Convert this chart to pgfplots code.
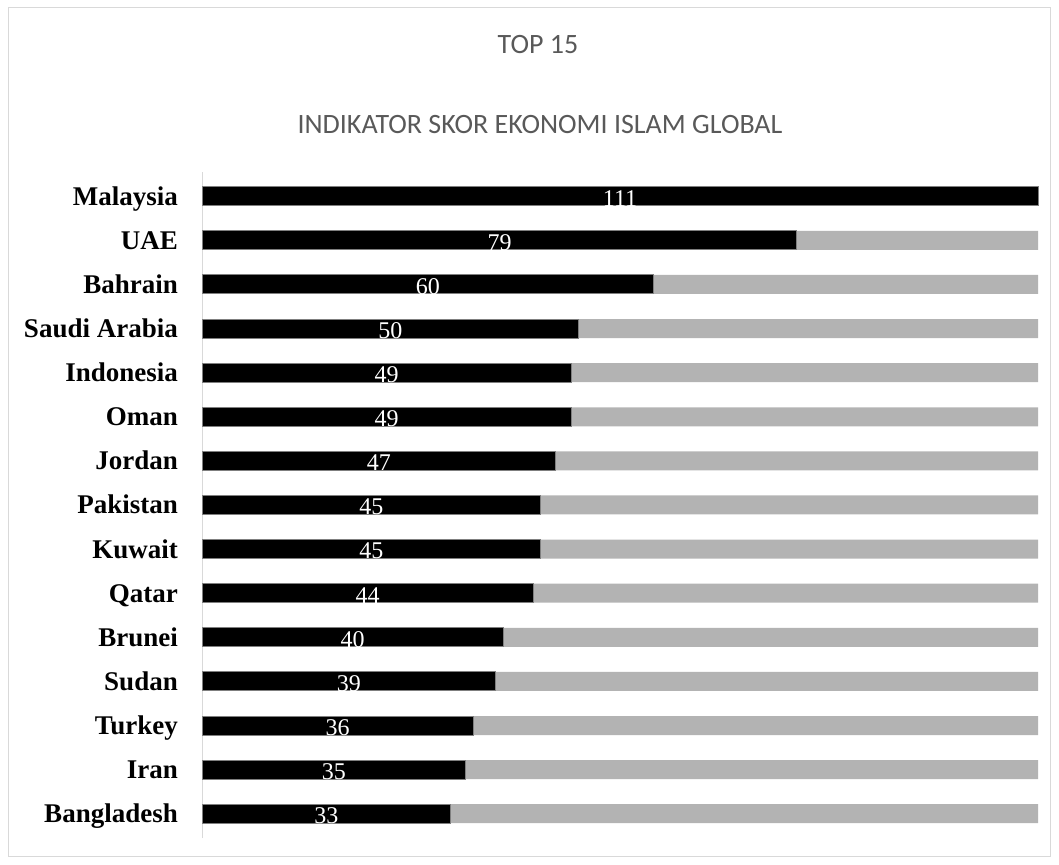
\documentclass[border=0pt]{standalone}
\usepackage{pgfplots}
\pgfplotsset{compat=1.18}
\usepackage{pgfplotstable}
\usepackage{fontspec}
\setmainfont{Liberation Serif}
\newfontfamily\calibri{Carlito}
\definecolor{titlegray}{HTML}{595959}
\definecolor{bggray}{HTML}{B3B3B3}
\definecolor{framegray}{HTML}{D9D9D9}
\definecolor{edgegray}{HTML}{7F7F7F}

\pgfplotstableread{
idx v
0 33
1 35
2 36
3 39
4 40
5 44
6 45
7 45
8 47
9 49
10 49
11 50
12 60
13 79
14 111
}\datatable

\pgfplotstableread{
idx full
0 111
1 111
2 111
3 111
4 111
5 111
6 111
7 111
8 111
9 111
10 111
11 111
12 111
13 111
14 111
}\fulltable

\begin{document}
\begin{tikzpicture}
\useasboundingbox (0bp,0bp) rectangle (1059bp,865bp);
\draw[framegray, line width=1bp] (8bp,8bp) rectangle (1050bp,857bp);
\node[font=\calibri\fontsize{28bp}{32bp}\selectfont, text=titlegray, anchor=base, inner sep=0pt] at (538bp,811bp) {TOP 15};
\node[font=\calibri\fontsize{28bp}{32bp}\selectfont, text=titlegray, anchor=base, inner sep=0pt] at (540bp,731bp) {INDIKATOR SKOR EKONOMI ISLAM GLOBAL};
\begin{axis}[
  at={(202bp,27bp)}, anchor=south west,
  scale only axis, width=836bp, height=666bp,
  xmin=0, xmax=111, ymin=-0.55, ymax=14.55,
  axis x line=none,
  axis y line*=left,
  y axis line style={draw=framegray, line width=1bp},
  ytick={0,...,14},
  yticklabels={Bangladesh,Iran,Turkey,Sudan,Brunei,Qatar,Kuwait,Pakistan,Jordan,Oman,Indonesia,Saudi Arabia,Bahrain,UAE,Malaysia},
  major tick length=0pt,
  yticklabel style={font=\bfseries\fontsize{27bp}{30bp}\selectfont, anchor=base east, yshift=-9bp, xshift=-24bp, inner sep=0pt},
  clip=false,
]
\addplot[xbar, bar width=19bp, bar shift=0pt, fill=bggray, draw=none] table[x=full, y=idx] {\fulltable};
\addplot[xbar, bar width=19bp, bar shift=0pt, fill=black, draw=edgegray, line width=1bp] table[x=v, y=idx] {\datatable};
\addplot[only marks, mark=none, point meta=explicit symbolic,
  nodes near coords,
  every node near coord/.style={anchor=center, text=white, yshift=-2bp, inner sep=0pt, font=\fontsize{24bp}{28bp}\selectfont}]
  table[x expr=\thisrow{v}/2, y=idx, meta=v] {\datatable};
\end{axis}
\end{tikzpicture}
\end{document}
